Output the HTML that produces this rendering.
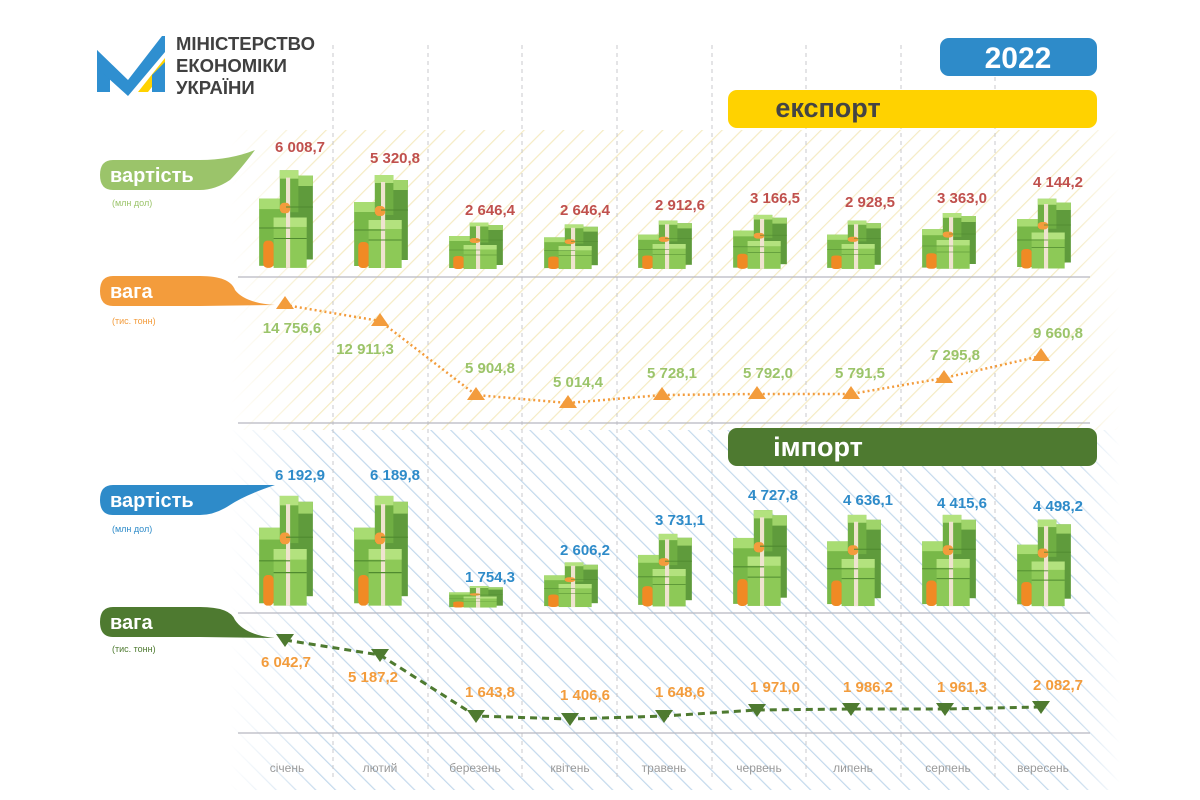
<!DOCTYPE html>
<html><head><meta charset="utf-8"><style>
html,body{margin:0;padding:0;background:#fff;}
svg{display:block;font-family:"Liberation Sans",sans-serif;}
</style></head><body>
<svg width="1200" height="800" viewBox="0 0 1200 800" xmlns="http://www.w3.org/2000/svg">
<defs>
<pattern id="hy" width="14" height="14" patternUnits="userSpaceOnUse" patternTransform="rotate(45)">
<rect width="14" height="14" fill="#fff"/><rect x="0" y="0" width="1.2" height="14" fill="#f5ebc4"/></pattern>
<pattern id="hb" width="14" height="14" patternUnits="userSpaceOnUse" patternTransform="rotate(-45)">
<rect width="14" height="14" fill="#fff"/><rect x="0" y="0" width="1.2" height="14" fill="#c3d9ec"/></pattern>
<linearGradient id="gx" x1="0" x2="1" y1="0" y2="0">
<stop offset="0" stop-color="#000"/><stop offset="0.1" stop-color="#fff"/><stop offset="0.95" stop-color="#fff"/><stop offset="1" stop-color="#000"/></linearGradient>
<mask id="mk"><rect x="230" y="110" width="890" height="680" fill="url(#gx)"/></mask>
<symbol id="money" viewBox="0 0 60 100" preserveAspectRatio="none">
<rect x="30" y="10" width="26" height="80" fill="#5f9b3c"/>
<rect x="30" y="10" width="26" height="10" fill="#9fd46a"/>
<rect x="4" y="32" width="30" height="64" fill="#78b848"/>
<rect x="4" y="32" width="30" height="10" fill="#a8dc72"/>
<rect x="18" y="50" width="32" height="48" fill="#8dc957"/>
<rect x="18" y="50" width="32" height="9" fill="#b3e27e"/>
<rect x="24" y="5" width="18" height="40" fill="#6fae43"/>
<rect x="24" y="5" width="18" height="8" fill="#b3e27e"/>
<rect x="30" y="12" width="4" height="86" fill="#efe3cf"/>
<rect x="8" y="72" width="10" height="26" rx="4" fill="#f08a24"/>
<rect x="24" y="36" width="10" height="10" rx="4" fill="#f39c3c"/>
<line x1="18" y1="70" x2="50" y2="70" stroke="#4f8a2f" stroke-width="1"/>
<line x1="4" y1="60" x2="34" y2="60" stroke="#4f8a2f" stroke-width="1"/>
<line x1="30" y1="40" x2="56" y2="40" stroke="#4f8a2f" stroke-width="1"/>
</symbol>
</defs>

<g mask="url(#mk)">
<rect x="230" y="130" width="890" height="300" fill="url(#hy)"/>
<rect x="230" y="430" width="890" height="360" fill="url(#hb)"/>
</g>

<g stroke="#c8c8cc" stroke-width="1" stroke-dasharray="4,4">
<line x1="333" y1="45" x2="333" y2="780"/><line x1="428" y1="45" x2="428" y2="780"/>
<line x1="522" y1="45" x2="522" y2="780"/><line x1="617" y1="45" x2="617" y2="780"/>
<line x1="712" y1="45" x2="712" y2="780"/><line x1="806" y1="45" x2="806" y2="780"/>
<line x1="901" y1="45" x2="901" y2="780"/><line x1="995" y1="45" x2="995" y2="780"/>
</g>
<g stroke="#b8b8c0" stroke-width="1.3">
<line x1="238" y1="277" x2="1090" y2="277"/><line x1="238" y1="423" x2="1090" y2="423"/>
<line x1="238" y1="613" x2="1090" y2="613"/><line x1="238" y1="733" x2="1090" y2="733"/>
</g>

<!-- logo -->
<path d="M97 50 L97 92 L110 92 L110 68 Z" fill="#2f8fd0"/>
<path d="M97 50 L128 80 L162 36 L165 36 L165 52 L128 96 L97 68 Z" fill="#2f8fd0"/>
<path d="M138 92 L165 58 L165 70 L148 92 Z" fill="#ffd200"/>
<path d="M152 75 L165 62 L165 92 L152 92 Z" fill="#2f8fd0"/>
<text x="176" y="50" font-size="18.5" font-weight="bold" fill="#404040">МІНІСТЕРСТВО</text>
<text x="176" y="72" font-size="18.5" font-weight="bold" fill="#404040">ЕКОНОМІКИ</text>
<text x="176" y="94" font-size="18.5" font-weight="bold" fill="#404040">УКРАЇНИ</text>

<rect x="940" y="38" width="157" height="38" rx="9" fill="#2e8bc9"/>
<text x="1018" y="68" font-size="30" font-weight="bold" fill="#fff" text-anchor="middle">2022</text>
<rect x="728" y="90" width="369" height="38" rx="9" fill="#ffd200"/>
<text x="828" y="117" font-size="27" font-weight="bold" fill="#444" text-anchor="middle">експорт</text>
<rect x="728" y="428" width="369" height="38" rx="9" fill="#4e7a30"/>
<text x="818" y="456" font-size="27" font-weight="bold" fill="#fff" text-anchor="middle">імпорт</text>

<path d="M113 160 L200 160 Q230 160 255 150 Q240 170 230 180 Q215 190 200 190 L113 190 Q100 190 100 175 Q100 160 113 160 Z" fill="#9bc46a"/>
<text x="110" y="182" font-size="20" font-weight="bold" fill="#fff">вартість</text>
<text x="112" y="206" font-size="9" fill="#9bc46a">(млн дол)</text>
<path d="M113 276 L200 276 Q230 276 235 290 Q245 303 275 305 L200 306 L113 306 Q100 306 100 291 Q100 276 113 276 Z" fill="#f39c3c"/>
<text x="110" y="298" font-size="20" font-weight="bold" fill="#fff">вага</text>
<text x="112" y="324" font-size="9" fill="#f39c3c">(тис. тонн)</text>
<path d="M113 485 L200 485 Q230 485 275 485 Q245 495 230 505 Q215 515 200 515 L113 515 Q100 515 100 500 Q100 485 113 485 Z" fill="#2e8bc9"/>
<text x="110" y="507" font-size="20" font-weight="bold" fill="#fff">вартість</text>
<text x="112" y="532" font-size="9" fill="#2e8bc9">(млн дол)</text>
<path d="M113 607 L200 607 Q230 607 235 620 Q245 635 275 638 L200 637 L113 637 Q100 637 100 622 Q100 607 113 607 Z" fill="#4e7a30"/>
<text x="110" y="629" font-size="20" font-weight="bold" fill="#fff">вага</text>
<text x="112" y="652" font-size="9" fill="#4e7a30">(тис. тонн)</text>

<use href="#money" x="255" y="165" width="62" height="105"/>
<use href="#money" x="350" y="170" width="62" height="100"/>
<use href="#money" x="445" y="220" width="62" height="50"/>
<use href="#money" x="540" y="222" width="62" height="48"/>
<use href="#money" x="634" y="218" width="62" height="52"/>
<use href="#money" x="729" y="212" width="62" height="58"/>
<use href="#money" x="823" y="218" width="62" height="52"/>
<use href="#money" x="918" y="210" width="62" height="60"/>
<use href="#money" x="1013" y="195" width="62" height="75"/>
<g font-size="15" font-weight="bold" fill="#c0504d" text-anchor="middle">
<text x="300" y="152">6 008,7</text><text x="395" y="163">5 320,8</text>
<text x="490" y="215">2 646,4</text><text x="585" y="215">2 646,4</text>
<text x="680" y="210">2 912,6</text><text x="775" y="203">3 166,5</text>
<text x="870" y="207">2 928,5</text><text x="962" y="203">3 363,0</text>
<text x="1058" y="187">4 144,2</text>
</g>

<polyline points="285,305 380,321 476,395 568,403 662,395 757,394 851,394 944,378 1041,356" fill="none" stroke="#f39c3c" stroke-width="2.5" stroke-dasharray="2,3"/>
<g fill="#f39c3c">
<path d="M285 296 l-9 13 h18z"/><path d="M380 313 l-9 13 h18z"/><path d="M476 387 l-9 13 h18z"/>
<path d="M568 395 l-9 13 h18z"/><path d="M662 387 l-9 13 h18z"/><path d="M757 386 l-9 13 h18z"/>
<path d="M851 386 l-9 13 h18z"/><path d="M944 370 l-9 13 h18z"/><path d="M1041 348 l-9 13 h18z"/>
</g>
<g font-size="15" font-weight="bold" fill="#9bc46a" text-anchor="middle">
<text x="292" y="333">14 756,6</text><text x="365" y="354">12 911,3</text>
<text x="490" y="373">5 904,8</text><text x="578" y="387">5 014,4</text>
<text x="672" y="378">5 728,1</text><text x="768" y="378">5 792,0</text>
<text x="860" y="378">5 791,5</text><text x="955" y="360">7 295,8</text>
<text x="1058" y="338">9 660,8</text>
</g>

<use href="#money" x="255" y="490" width="62" height="118"/>
<use href="#money" x="350" y="490" width="62" height="118"/>
<use href="#money" x="445" y="585" width="62" height="23"/>
<use href="#money" x="540" y="560" width="62" height="48"/>
<use href="#money" x="634" y="530" width="62" height="78"/>
<use href="#money" x="729" y="505" width="62" height="103"/>
<use href="#money" x="823" y="510" width="62" height="98"/>
<use href="#money" x="918" y="510" width="62" height="98"/>
<use href="#money" x="1013" y="515" width="62" height="93"/>
<g font-size="15" font-weight="bold" fill="#2e8bc9" text-anchor="middle">
<text x="300" y="480">6 192,9</text><text x="395" y="480">6 189,8</text>
<text x="490" y="582">1 754,3</text><text x="585" y="555">2 606,2</text>
<text x="680" y="525">3 731,1</text><text x="773" y="500">4 727,8</text>
<text x="868" y="505">4 636,1</text><text x="962" y="508">4 415,6</text>
<text x="1058" y="511">4 498,2</text>
</g>

<polyline points="285,640 380,655 476,716 570,719 664,716 757,710 851,709 945,709 1041,707" fill="none" stroke="#4e7a30" stroke-width="3" stroke-dasharray="7,5"/>
<g fill="#4e7a30">
<path d="M276 634 h18 l-9 13z"/><path d="M371 649 h18 l-9 13z"/><path d="M467 710 h18 l-9 13z"/>
<path d="M561 713 h18 l-9 13z"/><path d="M655 710 h18 l-9 13z"/><path d="M748 704 h18 l-9 13z"/>
<path d="M842 703 h18 l-9 13z"/><path d="M936 703 h18 l-9 13z"/><path d="M1032 701 h18 l-9 13z"/>
</g>
<g font-size="15" font-weight="bold" fill="#f39c3c" text-anchor="middle">
<text x="286" y="667">6 042,7</text><text x="373" y="682">5 187,2</text>
<text x="490" y="697">1 643,8</text><text x="585" y="700">1 406,6</text>
<text x="680" y="697">1 648,6</text><text x="775" y="692">1 971,0</text>
<text x="868" y="692">1 986,2</text><text x="962" y="692">1 961,3</text>
<text x="1058" y="690">2 082,7</text>
</g>

<g font-size="12" fill="#9a9a9a" text-anchor="middle">
<text x="287" y="772">січень</text><text x="380" y="772">лютий</text><text x="475" y="772">березень</text>
<text x="570" y="772">квітень</text><text x="664" y="772">травень</text><text x="759" y="772">червень</text>
<text x="853" y="772">липень</text><text x="948" y="772">серпень</text><text x="1043" y="772">вересень</text>
</g>
</svg>
</body></html>
